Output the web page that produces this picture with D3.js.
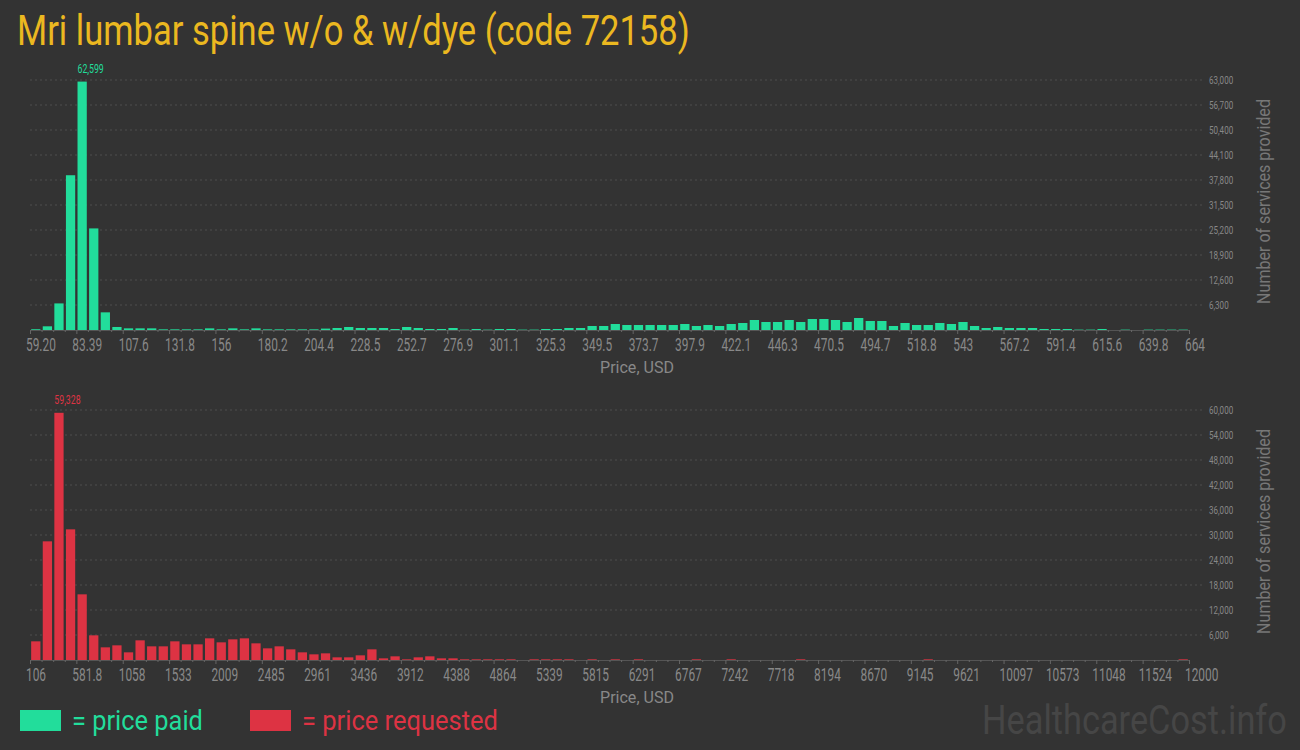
<!DOCTYPE html>
<html><head><meta charset="utf-8">
<script src="https://cdn.jsdelivr.net/npm/d3@7"></script>
<style>html,body{margin:0;padding:0;background:#333;}svg{display:block;}</style>
</head><body>
<script>
const titleText = "Mri lumbar spine w/o & w/dye (code 72158)";
const paidTickLabels = ["59.20","83.39","107.6","131.8","156","180.2","204.4","228.5","252.7","276.9","301.1","325.3","349.5","373.7","397.9","422.1","446.3","470.5","494.7","518.8","543","567.2","591.4","615.6","639.8","664"];
const paidYTicks = [6300,12600,18900,25200,31500,37800,44100,50400,56700,63000];
const paidCounts = [200,930,6700,39000,62599,25600,4450,760,420,420,
 420,170,170,170,170,420,170,420,170,420,
 170,170,170,170,170,350,504,756,504,504,
 504,252,756,504,252,252,504,100,252,100,
 252,252,100,100,252,252,504,504,1008,1008,
 1512,1260,1260,1260,1260,1260,1512,1008,1260,1008,
 1512,1764,2520,2016,2016,2520,2016,2772,2772,2520,
 2016,3024,2268,2268,1008,1764,1260,1260,1764,1512,
 2016,1008,504,756,504,504,504,252,252,252,
 100,100,252,0,100,0,100,100,100,100];
const reqTickLabels = ["106","581.8","1058","1533","2009","2485","2961","3436","3912","4388","4864","5339","5815","6291","6767","7242","7718","8194","8670","9145","9621","10097","10573","11048","11524","12000"];
const reqYTicks = [6000,12000,18000,24000,30000,36000,42000,48000,54000,60000];
const reqCounts = [4480,28480,59328,31360,15760,5920,3040,3520,1840,4720,
 3280,3280,4480,3760,3760,5200,4240,4960,5200,4000,
 2800,3280,2560,1840,1360,1600,640,640,1120,2560,
 400,880,160,640,880,400,400,160,160,160,
 160,160,0,160,160,160,160,0,160,0,
 160,0,160,0,0,0,0,160,0,0,
 160,0,0,0,0,0,160,0,0,0,
 0,0,0,0,0,0,0,160,0,0,
 0,0,0,0,0,0,0,0,0,0,
 0,0,0,0,0,0,0,0,0,160];

const W = 1300, H = 750;
const GREEN = "#22dd9b", RED = "#dd3343";
const FONT = "Roboto, 'Open Sans', sans-serif";
const svg = d3.select("body").append("svg").attr("width", W).attr("height", H);
svg.append("rect").attr("width", W).attr("height", H).attr("fill", "#333");

// condensed text helper: scale horizontally about anchor
function ctext(g, x, y, str, size, opts) {
  opts = opts || {};
  const t = g.append("text").text(str)
    .attr("x", 0).attr("y", 0)
    .attr("font-family", FONT).attr("font-size", size)
    .attr("fill", opts.fill || "#888")
    .attr("text-anchor", opts.anchor || "start");
  if (opts.weight) t.attr("font-weight", opts.weight);
  let sx = opts.sx || 1;
  if (opts.width) { const w = t.node().getComputedTextLength(); sx = opts.width / w; }
  const rot = opts.rotate ? ` rotate(${opts.rotate})` : "";
  t.attr("transform", `translate(${x},${y})${rot} scale(${sx},1)`);
  return t;
}

ctext(svg, 17, 45, titleText, 42, {fill: "#ebb820", width: 673});

function drawChart(cfg) {
  const left = 30, right = 1189, baseY = cfg.baseY, topY = baseY - 250;
  const n = cfg.counts.length;
  const g = svg.append("g");
  const xLin = d3.scaleLinear().domain([0, cfg.tickLabels.length - 1]).range([left, right]);
  const xBand = d3.scaleBand().domain(d3.range(n)).range([left, right]).paddingInner(0.2).paddingOuter(0.1);
  const y = d3.scaleLinear().domain([0, cfg.yMax]).range([baseY, topY]);

  // gridlines
  g.selectAll("line.grid").data(cfg.yTicks).enter().append("line")
    .attr("x1", left).attr("x2", 1205)
    .attr("y1", d => y(d)).attr("y2", d => y(d))
    .attr("stroke", "#4f4f4f").attr("stroke-width", 1).attr("stroke-dasharray", "2,3");
  cfg.yTicks.forEach(v => {
    ctext(g, 1209, y(v) + 4, d3.format(",")(v), 11.5, {fill: "#888", sx: 0.7});
  });

  // axis line and ticks
  g.append("line").attr("x1", left).attr("x2", right).attr("y1", baseY + 0.5).attr("y2", baseY + 0.5)
    .attr("stroke", "#555").attr("stroke-width", 1);
  const minorScale = d3.scaleLinear().domain([0, n]).range([left, right]);
  g.selectAll("line.minor").data(d3.range(n + 1)).enter().append("line")
    .attr("x1", d => minorScale(d) + 0.5).attr("x2", d => minorScale(d) + 0.5)
    .attr("y1", baseY).attr("y2", d => baseY + (d % 4 === 0 ? 4 : 2))
    .attr("stroke", "#666").attr("stroke-width", 1);

  cfg.tickLabels.forEach((lab, i) => {
    ctext(g, xLin(i) - 4, baseY + 21, lab, 18, {fill: "#888", sx: 0.66});
  });

  // bars
  g.selectAll("rect.bar").data(cfg.counts).enter().append("rect")
    .attr("x", (d, i) => xBand(i)).attr("width", xBand.bandwidth())
    .attr("y", d => y(d)).attr("height", d => baseY - y(d))
    .attr("fill", cfg.color);

  // max label
  const mi = d3.maxIndex(cfg.counts);
  ctext(g, xBand(mi), y(cfg.counts[mi]) - 9, d3.format(",")(cfg.counts[mi]), 12.5, {fill: cfg.color, sx: 0.7});

  // axis titles
  ctext(g, 637, baseY + 43, "Price, USD", 16, {fill: "#888", anchor: "middle", width: 74});
  ctext(g, 1270, (topY + baseY) / 2 - 3.5, "Number of services provided", 19, {fill: "#777", anchor: "middle", width: 205, rotate: -90});
}

drawChart({baseY: 330, yMax: 63000, yTicks: paidYTicks, counts: paidCounts, tickLabels: paidTickLabels, color: GREEN});
drawChart({baseY: 660, yMax: 60000, yTicks: reqYTicks, counts: reqCounts, tickLabels: reqTickLabels, color: RED});

// legend
svg.append("rect").attr("x", 20).attr("y", 710).attr("width", 41).attr("height", 21).attr("fill", GREEN);
ctext(svg, 72, 730, "= price paid", 28, {fill: GREEN, width: 131});
svg.append("rect").attr("x", 250).attr("y", 710).attr("width", 41).attr("height", 21).attr("fill", RED);
ctext(svg, 302, 730, "= price requested", 28, {fill: RED, width: 196});

// watermark
ctext(svg, 982, 734, "HealthcareCost.info", 41, {fill: "#464646", width: 305});
</script>
</body></html>
